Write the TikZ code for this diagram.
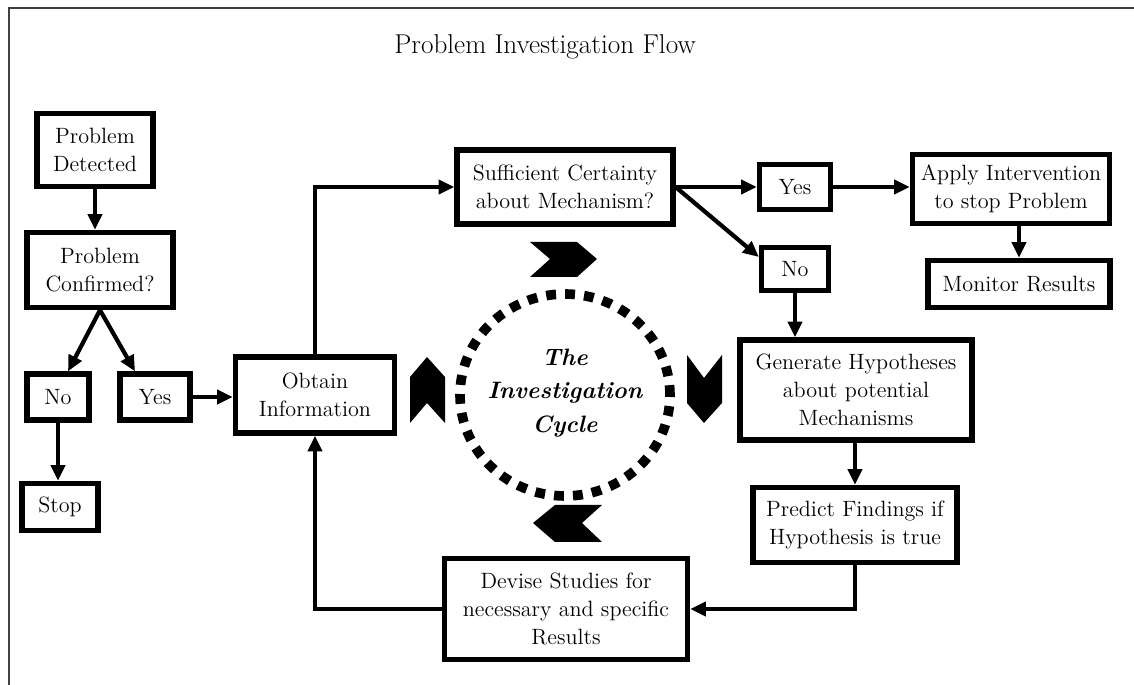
\documentclass[tikz,border=0pt]{standalone}
\usetikzlibrary{arrows.meta}
\tikzset{
  box/.style={draw, line width=3pt, align=center, inner sep=0pt,
    font=\fontsize{12.6}{16}\selectfont},
  arr/.style={-{Triangle[length=9pt,width=8pt]}, line width=2.4pt},
  chev/.style={fill=black},
}
\begin{document}
\begin{tikzpicture}[x=0.02cm, y=-0.02cm]
\useasboundingbox (0,0) rectangle (1134,685);
\draw[line width=1.2pt, black!75] (9,685) -- (9,8) -- (1134,8);
\node(title) at (545,47) {\fontsize{15.5}{18}\selectfont Problem Investigation Flow};
% left branch
\node[box, minimum width=2.32cm, minimum height=1.46cm](PD) at (95,150) {Problem\\Detected};
\node[box, minimum width=2.92cm, minimum height=1.5cm](PC) at (100,270) {Problem\\Confirmed?};
\node[box, minimum width=1.24cm, minimum height=0.92cm](noL) at (58,397) {No};
\node[box, minimum width=1.4cm, minimum height=0.92cm](yesL) at (155,397) {Yes};
\node[box, minimum width=1.52cm, minimum height=0.94cm](stop) at (60,507) {Stop};
% the cycle
\node[box, minimum width=3.18cm, minimum height=1.52cm](obtain) at (315,395) {Obtain\\Information};
\node[box, minimum width=4.32cm, minimum height=1.48cm](suff) at (565,187) {Sufficient Certainty\\about Mechanism?};
\node[box, minimum width=1.42cm, minimum height=0.9cm](yesR) at (795,187) {Yes};
\node[box, minimum width=1.34cm, minimum height=0.86cm](noR) at (795,269) {No};
\node[box, minimum width=3.94cm, minimum height=1.38cm](apply) at (1011,189) {Apply Intervention\\to stop Problem};
\node[box, minimum width=3.64cm, minimum height=0.94cm](monitor) at (1019,284) {Monitor Results};
\node[box, minimum width=4.64cm, minimum height=2cm](gen) at (856,390) {Generate Hypotheses\\about potential\\Mechanisms};
\node[box, minimum width=4.08cm, minimum height=1.5cm](predict) at (855,525) {Predict Findings if\\Hypothesis is true};
\node[box, minimum width=4.86cm, minimum height=2.02cm](devise) at (566,609) {Devise Studies for\\necessary and specific\\Results};
\path[arr]
(PD) edge (PD |- PC.north)
(PC.south) edge ([xshift=0.2cm]noL.north)
(PC.south) edge ([xshift=-0.4cm]yesL.north)
(noL) edge (noL |- stop.north)
(yesL) edge (yesL -| obtain.west)
(suff.east) edge (suff.east -| yesR.west)
(suff.east) edge ([yshift=0.24cm]noR.west)
(yesR) edge (yesR -| apply.west)
(apply.south -| monitor.north) edge (monitor)
(noR) edge (noR |- gen.north)
(predict.north |- gen.south) edge (predict);
\draw[arr] (obtain.north) |- (suff.west);
\draw[arr] (predict.south) |- (devise.east);
\draw[arr] (devise.west) -| (obtain.south);
% dotted ring and chevrons
\draw[line width=5.5pt, dash pattern=on 5.6pt off 5.2pt] (565,395) ellipse [x radius=2.1cm, y radius=2.02cm];
\node[align=center, font=\bfseries\itshape\fontsize{13.5}{19}\selectfont](cycle) at (565,393) {The\\Investigation\\Cycle};
\fill[chev] (530,242) -- (577,242) -- (597,259) -- (577,277) -- (530,277) -- (550,259) -- cycle;
\fill[chev] (602,505) -- (555,505) -- (533,523) -- (555,542) -- (602,542) -- (582,523) -- cycle;
\fill[chev] (410,423) -- (410,377) -- (427,357) -- (445,377) -- (445,423) -- (427,403) -- cycle;
\fill[chev] (687,355) -- (704,378) -- (722,355) -- (722,403) -- (704,423) -- (687,403) -- cycle;
\end{tikzpicture}
\end{document}
